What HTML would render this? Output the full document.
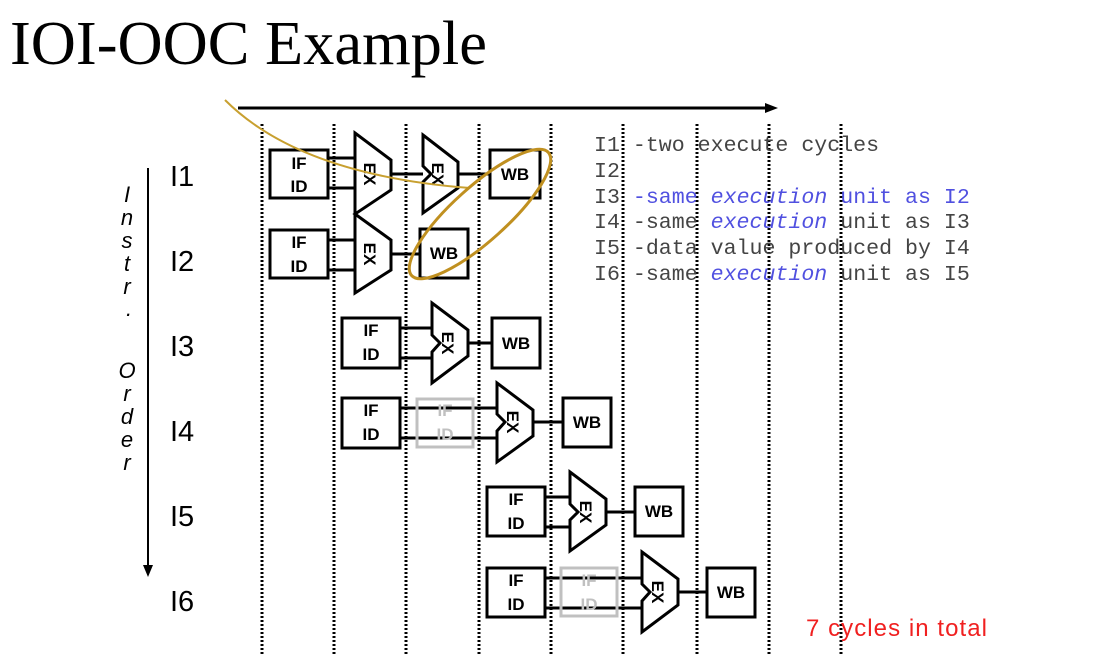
<!DOCTYPE html>
<html><head><meta charset="utf-8"><style>
html,body{margin:0;padding:0;background:#fff}
svg{display:block}
.b{font-family:"Liberation Sans",Arial,sans-serif;font-weight:bold;font-size:17px}
.m{font-family:"Liberation Mono",monospace;font-size:21.6px;fill:#444}
.bl{fill:#5050e0}
</style></head><body>
<svg width="1093" height="667" viewBox="0 0 1093 667" xmlns="http://www.w3.org/2000/svg">
<text x="10" y="64" font-family="Liberation Serif,serif" font-size="62" textLength="477" lengthAdjust="spacingAndGlyphs">IOI-OOC Example</text>
<line x1="238" y1="108" x2="770" y2="108" stroke="#000" stroke-width="3"/>
<polygon points="778,108 765,103 765,113" fill="#000"/>
<g stroke="#000" stroke-width="3" stroke-dasharray="2,2">
<line x1="262" y1="124" x2="262" y2="655"/><line x1="334" y1="124" x2="334" y2="655"/>
<line x1="406" y1="124" x2="406" y2="655"/><line x1="479" y1="124" x2="479" y2="655"/>
<line x1="551" y1="124" x2="551" y2="655"/><line x1="623" y1="124" x2="623" y2="655"/>
<line x1="697" y1="124" x2="697" y2="655"/><line x1="769" y1="124" x2="769" y2="655"/>
<line x1="841" y1="124" x2="841" y2="655"/>
</g>
<line x1="148" y1="168" x2="148" y2="568" stroke="#000" stroke-width="2"/>
<polygon points="148,577 143,565 153,565" fill="#000"/>
<g font-family="Liberation Sans,sans-serif" font-style="italic" font-size="22" text-anchor="middle">
<text x="127" y="202">I</text><text x="127" y="225">n</text><text x="127" y="248">s</text><text x="127" y="271">t</text><text x="127" y="294">r</text><text x="129" y="316">.</text>
<text x="127" y="378">O</text><text x="127" y="401">r</text><text x="127" y="424">d</text><text x="127" y="447">e</text><text x="127" y="470">r</text>
</g>
<g font-family="Liberation Sans,sans-serif" font-size="29">
<text x="170" y="186">I1</text><text x="170" y="271">I2</text><text x="170" y="356">I3</text>
<text x="170" y="441">I4</text><text x="170" y="526">I5</text><text x="170" y="611">I6</text>
</g>
<g fill="#fff" stroke="#000" stroke-width="3">
<path d="M328,158H355M328,188H355M390,174H423M458,174H490M328,240H355M328,270H355M390,254H420M400,328H432M400,358H432M468,343H492M400,408H497M400,438H497M533,422H563M545,497H570M545,527H570M606,512H635M545,578H642M545,608H642M678,592H707" fill="none"/>
<rect x="270" y="150" width="58" height="48"/><rect x="270" y="230" width="58" height="48"/>
<rect x="342" y="318" width="58" height="50"/><rect x="342" y="398" width="58" height="50"/>
<rect x="487" y="487" width="58" height="49"/><rect x="487" y="568" width="58" height="49"/>
<polygon points="355,133 391,160 391,190 355,214 391,240 391,270 355,293 355,214"/>
<polygon points="423,135 458,162 458,188 423,213 423,182 431,174 423,166"/>
<polygon points="432,303 468,330 468,356 432,383 432,352 440,343 432,335"/>
<polygon points="497,383 533,410 533,436 497,462 497,431 505,422 497,414"/>
<polygon points="570,472 606,499 606,525 570,551 570,520 578,512 570,504"/>
<polygon points="642,552 678,579 678,605 642,632 642,601 650,592 642,584"/>
<rect x="490" y="150" width="50" height="48"/><rect x="420" y="229" width="48" height="49"/>
<rect x="492" y="318" width="48" height="50"/><rect x="563" y="398" width="48" height="49"/>
<rect x="635" y="487" width="48" height="49"/><rect x="707" y="568" width="48" height="49"/>
</g>
<g fill="none" stroke="#c0c0c0" stroke-width="3">
<rect x="417" y="399" width="56" height="48"/><rect x="561" y="568" width="56" height="48"/>
</g>
<g class="b" text-anchor="middle">
<text x="299" y="169">IF</text><text x="299" y="192">ID</text>
<text x="299" y="248">IF</text><text x="299" y="272">ID</text>
<text x="371" y="336">IF</text><text x="371" y="360">ID</text>
<text x="371" y="416">IF</text><text x="371" y="440">ID</text>
<text x="516" y="505">IF</text><text x="516" y="529">ID</text>
<text x="516" y="586">IF</text><text x="516" y="610">ID</text>
<text x="515" y="180">WB</text><text x="444" y="259">WB</text><text x="516" y="349">WB</text>
<text x="587" y="428">WB</text><text x="659" y="517">WB</text><text x="731" y="598">WB</text>
<g fill="#c0c0c0"><text x="445" y="416">IF</text><text x="445" y="440">ID</text><text x="589" y="586">IF</text><text x="589" y="610">ID</text></g>
<text transform="translate(370,174) rotate(90)" y="6">EX</text>
<text transform="translate(438,174) rotate(90)" y="6">EX</text>
<text transform="translate(370,254) rotate(90)" y="6">EX</text>
<text transform="translate(448,343) rotate(90)" y="6">EX</text>
<text transform="translate(513,422) rotate(90)" y="6">EX</text>
<text transform="translate(586,512) rotate(90)" y="6">EX</text>
<text transform="translate(658,592) rotate(90)" y="6">EX</text>
</g>
<path d="M225,100 Q300,175 470,188" fill="none" stroke="#c8a030" stroke-width="2"/>
<ellipse cx="480" cy="214" rx="92" ry="27" transform="rotate(-42 480 214)" fill="none" stroke="#c09020" stroke-width="3"/>
<g class="m">
<text x="594" y="151">I1 -two execute cycles</text>
<text x="594" y="177">I2</text>
<text x="594" y="203"><tspan>I3 </tspan><tspan class="bl">-same </tspan><tspan class="bl" font-style="italic">execution</tspan><tspan class="bl"> unit as I2</tspan></text>
<text x="594" y="228">I4 -same <tspan class="bl" font-style="italic">execution</tspan> unit as I3</text>
<text x="594" y="254">I5 -data value produced by I4</text>
<text x="594" y="280">I6 -same <tspan class="bl" font-style="italic">execution</tspan> unit as I5</text>
</g>
<text x="806" y="636" font-family="Liberation Sans,sans-serif" font-size="24" fill="#f02020" textLength="181">7 cycles in total</text>
</svg>
</body></html>
